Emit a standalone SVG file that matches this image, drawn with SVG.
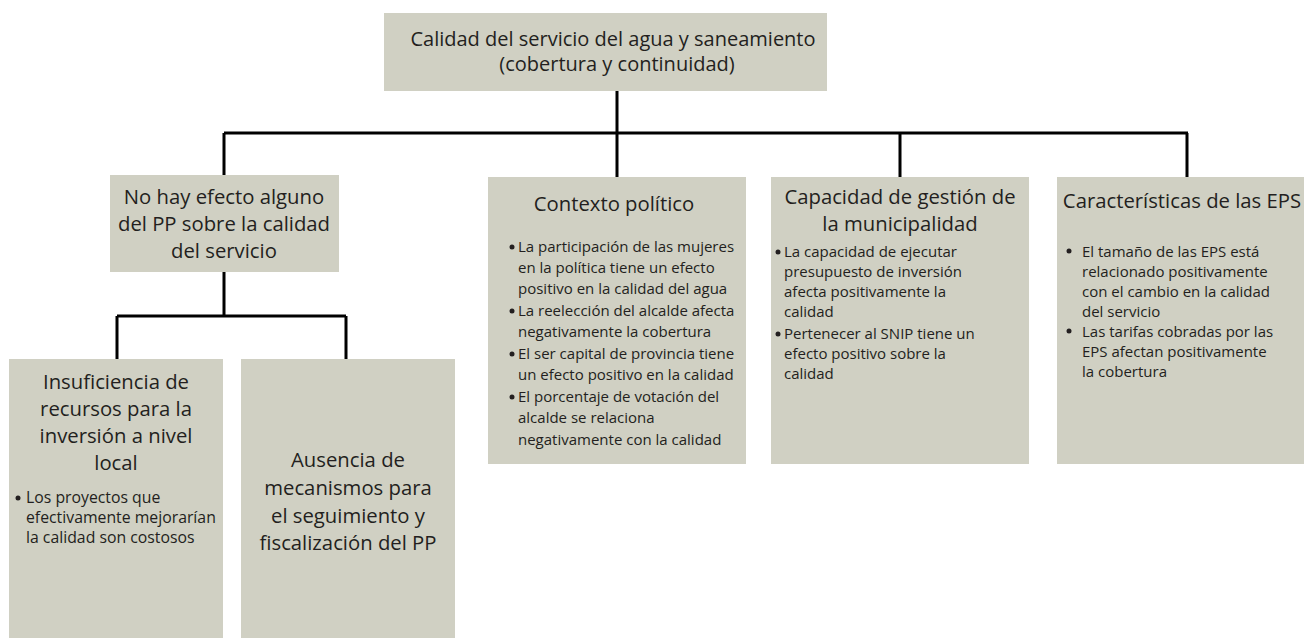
<svg xmlns="http://www.w3.org/2000/svg" width="1304" height="638" viewBox="0 0 1304 638">
<style>
.box{fill:#d0d0c3}
.t{font-family:"Open Sans","Liberation Sans",sans-serif;fill:#231f20}
.h{font-size:20.3px;text-anchor:middle}
.top{font-size:20px;text-anchor:middle}
.b{font-size:15px}
.b2{font-size:15.8px}
.dot{fill:#231f20}
.ln{stroke:#000;stroke-width:3;fill:none}
</style>
<rect x="0" y="0" width="1304" height="638" fill="#fff"/>
<g id="connectors">
<path class="ln" d="M617 91V178M224 133H1188M224 133V175M900 133V178M1187 133V178"/>
<path class="ln" d="M224 272V316M117 316H346M117 316V359M346 316V359"/>
</g>
<g id="n-top">
<rect class="box" x="384" y="13" width="443" height="78"/>
<text class="t top" x="613" y="46">Calidad del servicio del agua y saneamiento</text>
<text class="t top" x="617" y="71">(cobertura y continuidad)</text>
</g>
<g id="n-noefecto">
<rect class="box" x="110" y="175" width="229" height="97"/>
<text class="t h" x="224" y="204">No hay efecto alguno</text>
<text class="t h" x="224" y="231">del PP sobre la calidad</text>
<text class="t h" x="224" y="258">del servicio</text>
</g>
<g id="n-contexto">
<rect class="box" x="488" y="177" width="258" height="287"/>
<text class="t h" x="614" y="211">Contexto político</text>
<circle class="dot" cx="512" cy="247" r="2.5"/>
<text class="t b" x="518" y="252">La participación de las mujeres</text>
<text class="t b" x="518" y="273">en la política tiene un efecto</text>
<text class="t b" x="518" y="294">positivo en la calidad del agua</text>
<circle class="dot" cx="512" cy="311" r="2.5"/>
<text class="t b" x="518" y="316">La reelección del alcalde afecta</text>
<text class="t b" x="518" y="337">negativamente la cobertura</text>
<circle class="dot" cx="512" cy="354" r="2.5"/>
<text class="t b" x="518" y="359">El ser capital de provincia tiene</text>
<text class="t b" x="518" y="380">un efecto positivo en la calidad</text>
<circle class="dot" cx="512" cy="397" r="2.5"/>
<text class="t b" x="518" y="402">El porcentaje de votación del</text>
<text class="t b" x="518" y="423">alcalde se relaciona</text>
<text class="t b" x="518" y="445">negativamente con la calidad</text>
</g>
<g id="n-capacidad">
<rect class="box" x="771" y="177" width="258" height="287"/>
<text class="t h" x="900" y="204">Capacidad de gestión de</text>
<text class="t h" x="900" y="231">la municipalidad</text>
<circle class="dot" cx="778" cy="252" r="2.5"/>
<text class="t b" x="784" y="257">La capacidad de ejecutar</text>
<text class="t b" x="784" y="277">presupuesto de inversión</text>
<text class="t b" x="784" y="297">afecta positivamente la</text>
<text class="t b" x="784" y="317">calidad</text>
<circle class="dot" cx="778" cy="334" r="2.5"/>
<text class="t b" x="784" y="339">Pertenecer al SNIP tiene un</text>
<text class="t b" x="784" y="359">efecto positivo sobre la</text>
<text class="t b" x="784" y="379">calidad</text>
</g>
<g id="n-eps">
<rect class="box" x="1057" y="177" width="247" height="287"/>
<text class="t h" x="1182" y="208">Características de las EPS</text>
<circle class="dot" cx="1069" cy="251" r="2.5"/>
<text class="t b" x="1082" y="257">El tamaño de las EPS está</text>
<text class="t b" x="1082" y="277">relacionado positivamente</text>
<text class="t b" x="1082" y="297">con el cambio en la calidad</text>
<text class="t b" x="1082" y="317">del servicio</text>
<circle class="dot" cx="1069" cy="331" r="2.5"/>
<text class="t b" x="1082" y="337">Las tarifas cobradas por las</text>
<text class="t b" x="1082" y="357">EPS afectan positivamente</text>
<text class="t b" x="1082" y="377">la cobertura</text>
</g>
<g id="n-insuficiencia">
<rect class="box" x="9" y="359" width="214" height="279"/>
<text class="t h" x="116" y="389">Insuficiencia de</text>
<text class="t h" x="116" y="416">recursos para la</text>
<text class="t h" x="116" y="443">inversión a nivel</text>
<text class="t h" x="116" y="470">local</text>
<circle class="dot" cx="18" cy="498" r="2.5"/>
<text class="t b2" x="26" y="503">Los proyectos que</text>
<text class="t b2" x="26" y="523">efectivamente mejorarían</text>
<text class="t b2" x="26" y="543">la calidad son costosos</text>
</g>
<g id="n-ausencia">
<rect class="box" x="241" y="359" width="214" height="279"/>
<text class="t h" x="348" y="467">Ausencia de</text>
<text class="t h" x="348" y="495">mecanismos para</text>
<text class="t h" x="348" y="523">el seguimiento y</text>
<text class="t h" x="348" y="550">fiscalización del PP</text>
</g>
</svg>
